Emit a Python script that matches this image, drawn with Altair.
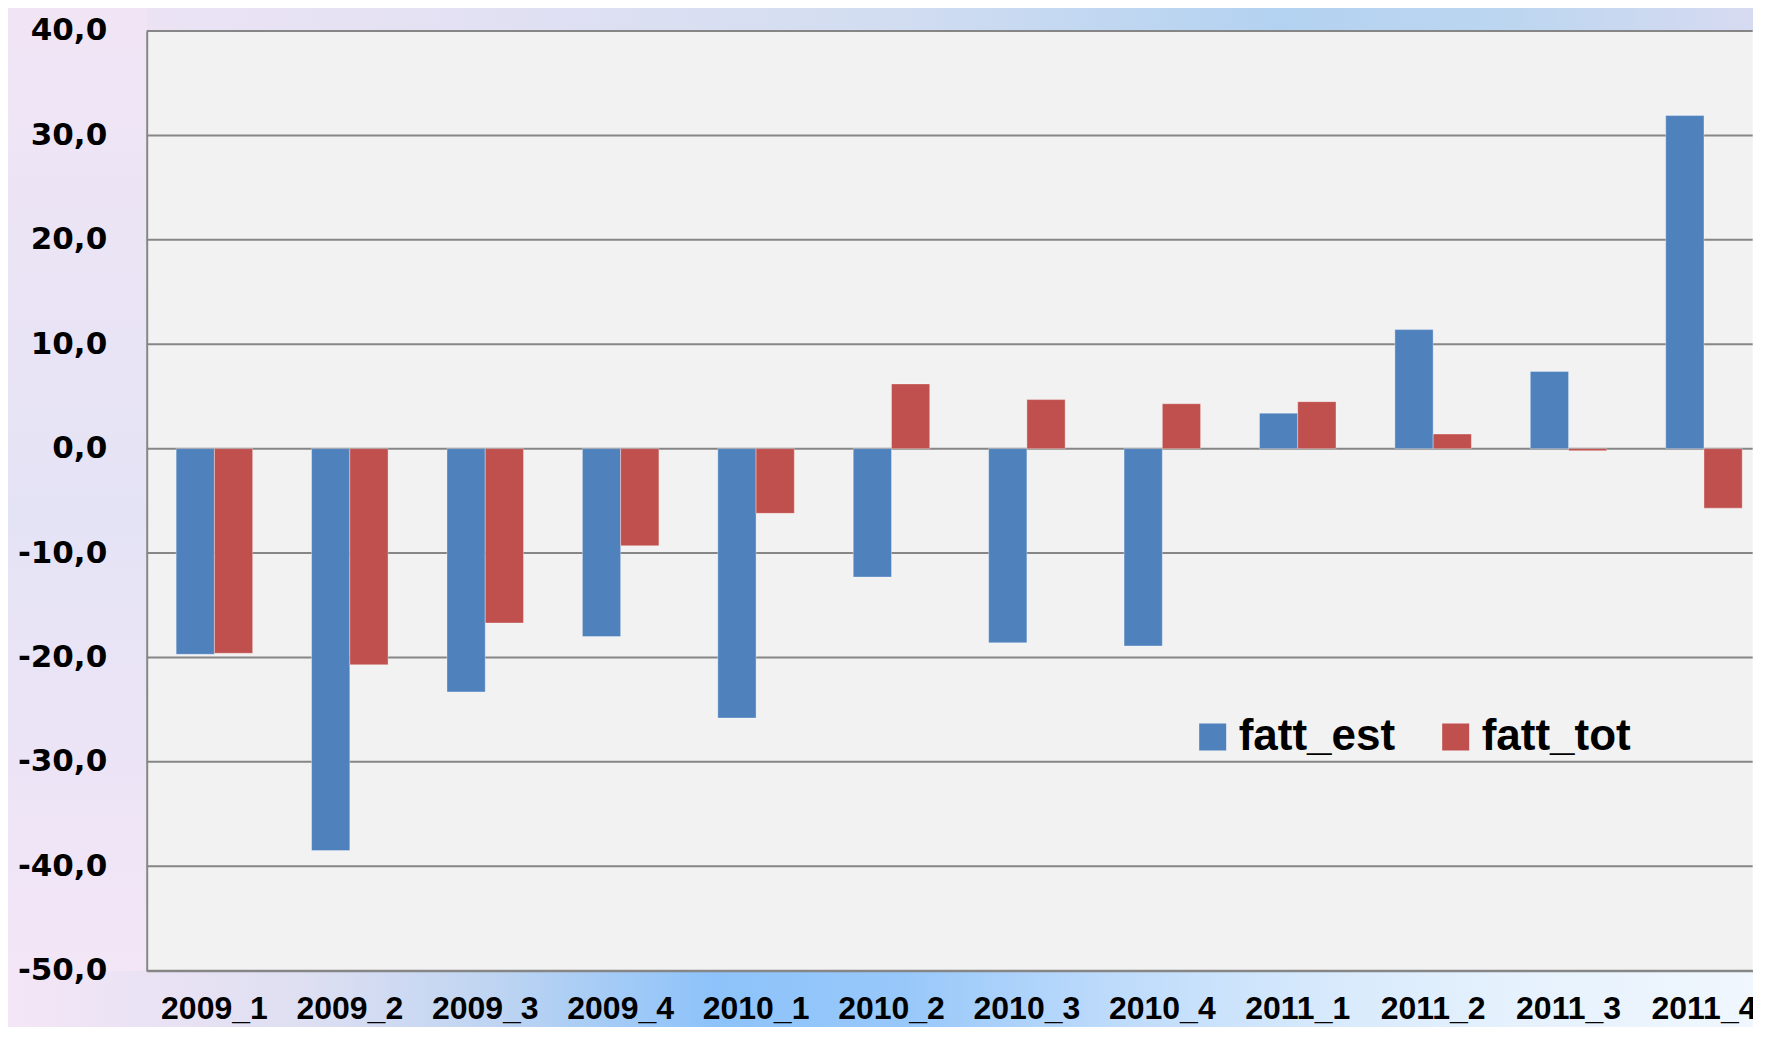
import altair as alt
import pandas as pd

# ---- data ----
periods = ["2009_1", "2009_2", "2009_3", "2009_4", "2010_1", "2010_2",
           "2010_3", "2010_4", "2011_1", "2011_2", "2011_3", "2011_4"]
fatt_est = [-19.7, -38.5, -23.3, -18.0, -25.8, -12.3, -18.6, -18.9, 3.4, 11.4, 7.4, 31.9]
fatt_tot = [-19.6, -20.7, -16.7, -9.3, -6.2, 6.2, 4.7, 4.3, 4.5, 1.4, -0.2, -5.7]
series = ["fatt_est", "fatt_tot"]
series_colors = ["#4F81BD", "#C0504D"]
y_ticks = [-50, -40, -30, -20, -10, 0, 10, 20, 30, 40]

rows = []
for i, p in enumerate(periods):
    rows.append({"period": p, "series": "fatt_est", "value": fatt_est[i]})
    rows.append({"period": p, "series": "fatt_tot", "value": fatt_tot[i]})
df = pd.DataFrame(rows)
grid_df = pd.DataFrame({"value": y_ticks})
one = pd.DataFrame({"k": [0]})

W = 1606
H = 939.7
PAD_L = 138.7
PAD_T = 23
PAD_B = 56
GRAY = "#868686"

yscale = alt.Scale(domain=[-50, 40], nice=False, zero=False)
y_axis = alt.Axis(title=None, values=y_ticks, labelExpr="datum.value + ',0'",
                  labelFont="DejaVu Sans", labelFontSize=31,
                  labelFontWeight="bold", labelColor="black",
                  labelBaseline="middle", labelPadding=40, ticks=False,
                  tickSize=0, domainColor=GRAY, domainWidth=2, grid=False,
                  zindex=1, labelOverlap=False)


def hgrad(stops):
    return alt.Gradient(gradient="linear", x1=0, x2=1, y1=0, y2=0,
                        stops=[alt.GradientStop(offset=o, color=c) for o, c in stops])


def vgrad(stops):
    return alt.Gradient(gradient="linear", x1=0, x2=0, y1=0, y2=1,
                        stops=[alt.GradientStop(offset=o, color=c) for o, c in stops])


top_strip = alt.Chart(one).mark_rect(fill=hgrad([
    (0.0, "#EFE4F5"), (0.25, "#E3E1F3"), (0.5, "#D2DDF1"),
    (0.72, "#B3D2F1"), (0.85, "#BCD6F0"), (1.0, "#D9DBF1")])).encode(
    x=alt.value(-PAD_L - 2), x2=alt.value(W + 20),
    y=alt.value(-PAD_T - 2), y2=alt.value(0))

left_strip = alt.Chart(one).mark_rect(fill=vgrad([
    (0.0, "#F1E5F5"), (0.5, "#E4E3F5"), (1.0, "#F5E6F7")])).encode(
    x=alt.value(-PAD_L - 2), x2=alt.value(0),
    y=alt.value(-PAD_T - 2), y2=alt.value(H + PAD_B + 2))

bottom_strip = alt.Chart(one).mark_rect(fill=hgrad([
    (0.0, "#F4E6F6"), (0.17, "#DEDFF2"), (0.28, "#BDD4F2"), (0.4, "#8DC3FA"),
    (0.51, "#98C8FA"), (0.62, "#BCDAFB"), (0.74, "#D6E9FC"), (0.85, "#E5F1FD"),
    (1.0, "#F1F7FD")])).encode(
    x=alt.value(-PAD_L - 2), x2=alt.value(W + 20),
    y=alt.value(H), y2=alt.value(H + PAD_B + 2))

gridlines = alt.Chart(grid_df).mark_rule(color=GRAY, strokeWidth=2).encode(
    y=alt.Y("value:Q", scale=yscale, axis=y_axis))

bars = alt.Chart(df).mark_bar(stroke="white", strokeOpacity=0.35, strokeWidth=1).encode(
    x=alt.X("period:N", sort=periods,
            scale=alt.Scale(range=[0, 1625], paddingInner=0.435, paddingOuter=0.2175),
            axis=alt.Axis(title=None, labelAngle=0, labelFont="Liberation Sans",
                          labelFontSize=32, labelFontWeight="bold", labelColor="black",
                          labelBaseline="alphabetic", labelPadding=48, ticks=False,
                          tickSize=0, domainColor=GRAY, domainWidth=2, grid=False,
                          zindex=1, labelOverlap=False)),
    xOffset=alt.XOffset("series:N", sort=series,
                        scale=alt.Scale(paddingInner=0, paddingOuter=0)),
    y=alt.Y("value:Q", scale=yscale, axis=y_axis),
    color=alt.Color("series:N", scale=alt.Scale(domain=series, range=series_colors),
                    legend=alt.Legend(orient="none", legendX=1044, legendY=684,
                                      direction="horizontal", title=None,
                                      symbolType="square", symbolSize=729,
                                      symbolStrokeWidth=0, labelFont="Liberation Sans",
                                      labelFontSize=44, labelFontWeight="bold",
                                      labelColor="black", labelOffset=4,
                                      columnPadding=38, labelLimit=400)),
)

chart = alt.layer(top_strip, left_strip, bottom_strip, gridlines, bars).properties(
    width=W, height=H,
    padding={"left": PAD_L, "top": PAD_T, "right": 0, "bottom": PAD_B},
    autosize=alt.AutoSizeParams(type="none"),
).configure_view(stroke=None, fill="#F2F2F2")

chart.save("out.html", embed_options={"renderer": "svg", "actions": False})
